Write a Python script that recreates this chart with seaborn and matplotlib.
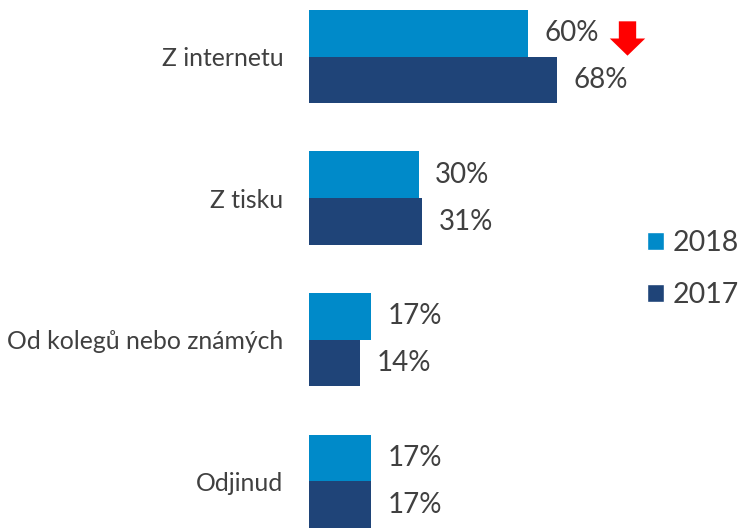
import numpy as np
import pandas as pd
import matplotlib
matplotlib.use('Agg')
import matplotlib.pyplot as plt
import matplotlib.transforms as mtransforms
from matplotlib.path import Path
from matplotlib.patches import Patch
import seaborn as sns

CATEGORIES = ['Z internetu', 'Z tisku', 'Od kolegů nebo známých', 'Odjinud']
YEARS = ['2018', '2017']
VALUES_2018 = [60, 30, 17, 17]
VALUES_2017 = [68, 31, 14, 17]
COLORS = {'2018': '#008AC9', '2017': '#1F4478'}
TEXT_COLOR = '#404040'

sns.set_style('white')
plt.rcParams['font.family'] = ['Lato', 'DejaVu Sans']

df = pd.DataFrame({
    'kategorie': CATEGORIES * 2,
    'rok': ['2018'] * 4 + ['2017'] * 4,
    'hodnota': VALUES_2018 + VALUES_2017,
})

fig = plt.figure(figsize=(7.4, 5.28), dpi=100)
ax = fig.add_axes([309 / 740, 0, 328.5 / 740, 1])

sns.barplot(data=df, x='hodnota', y='kategorie', hue='rok', hue_order=YEARS,
            order=CATEGORIES, palette=COLORS, width=0.66, orient='h',
            saturation=1, ax=ax, legend=False, errorbar=None, linewidth=0)

ax.set_xlim(0, 90)
ax.set_ylim(3.33, -0.40)
ax.set_xlabel('')
ax.set_ylabel('')
ax.set_xticks([])
sns.despine(ax=ax, left=True, bottom=True)
ax.tick_params(axis='y', length=0, pad=18.5, labelsize=17.8, labelcolor=TEXT_COLOR)

for cont in ax.containers:
    ax.bar_label(cont, fmt='%.0f%%', padding=12, fontsize=20, color=TEXT_COLOR)

# red down arrow next to the falling value
arrow = Path([(-0.49, 0.97), (0.49, 0.97), (0.49, 0.0), (1.0, 0.0),
              (0.0, -0.97), (-1.0, 0.0), (-0.49, 0.0), (-0.49, 0.97)],
             [Path.MOVETO] + [Path.LINETO] * 6 + [Path.CLOSEPOLY])
first = ax.containers[0][0]
bx = first.get_x() + first.get_width()
by = first.get_y() + first.get_height() / 2
shift = mtransforms.ScaledTranslation(98.5 / 100, -5 / 100, fig.dpi_scale_trans)
ax.plot([bx], [by], marker=arrow, markersize=25.5, color='#FF0000',
        markeredgewidth=0, transform=ax.transData + shift, clip_on=False)

handles = [Patch(facecolor=COLORS[y], label=y) for y in YEARS]
leg = fig.legend(handles=handles, loc='center left', bbox_to_anchor=(647 / 740, 1 - 269 / 528),
                 frameon=False, fontsize=20.5, handlelength=0.6, handleheight=0.6,
                 handletextpad=0.3, labelspacing=0.92, borderaxespad=0, borderpad=0)
for t in leg.get_texts():
    t.set_color(TEXT_COLOR)

fig.savefig('out.png', dpi=100)
